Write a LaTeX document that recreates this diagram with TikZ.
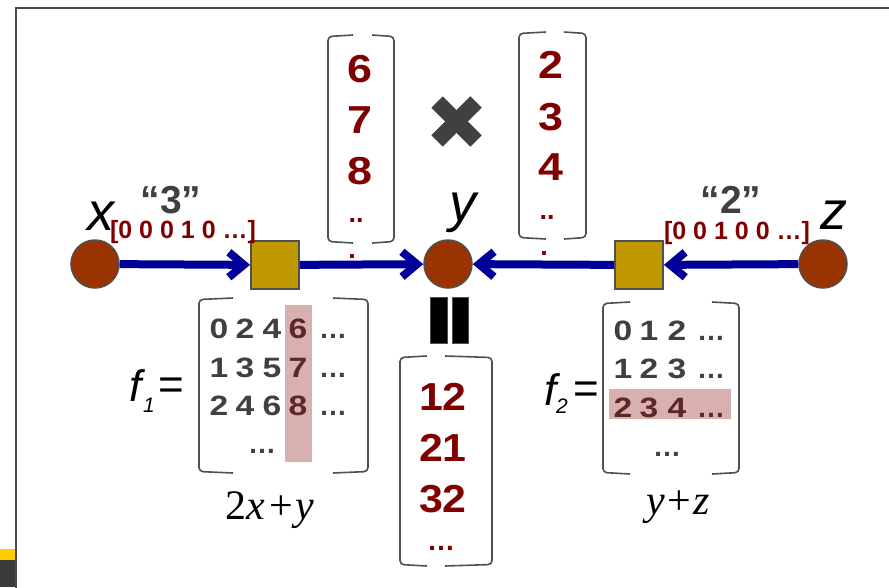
\documentclass[tikz,border=0pt]{standalone}
\usepackage{fontspec}
\setmainfont{Liberation Sans}
\newfontfamily\tms{Liberation Serif}
\usetikzlibrary{arrows.meta}
\definecolor{dred}{HTML}{800000}
\definecolor{tgray}{HTML}{404040}
\definecolor{hred}{HTML}{5A2828}
\definecolor{hlpink}{HTML}{D8B0B0}
\definecolor{rust}{HTML}{993300}
\definecolor{gold}{HTML}{C09800}
\definecolor{navy}{HTML}{000099}
\definecolor{bgray}{HTML}{505050}
\definecolor{framegray}{HTML}{4A4A4A}
\definecolor{stripyellow}{HTML}{FFCC00}
\definecolor{stripdark}{HTML}{3A3A3A}
\newcommand\stretchx[2][1.2]{\scalebox{#1}[1]{#2}}
\newcommand\brkt[6]{%
  \draw[brk] (#1+#5,#2) -- (#1,#2+1.5) -- (#1,#4-1.5) -- (#1+#5,#4);
  \draw[brk] (#3-#6,#2) -- (#3,#2+1.5) -- (#3,#4-1.5) -- (#3-#6,#4);}
\begin{document}
\begin{tikzpicture}[x=1pt,y=-1pt,
  varnode/.style={circle, draw=bgray, line width=1.5pt, fill=rust, minimum size=48pt, inner sep=0pt},
  sqnode/.style={rectangle, draw=bgray, line width=1.8pt, fill=gold, minimum size=48pt, inner sep=0pt},
  conn/.style={line width=8pt, draw=navy, -{Straight Barb[length=15pt,width=25pt]}},
  varlbl/.style={font=\fontsize{54}{54}\selectfont\itshape, inner sep=0pt},
  quot/.style={font=\fontsize{39}{39}\selectfont\bfseries, text=tgray, inner sep=0pt},
  bits/.style={font=\fontsize{25}{25}\selectfont\bfseries, text=dred, inner sep=0pt},
  vecnum/.style={font=\fontsize{39}{39}\selectfont\bfseries, text=dred, inner sep=0pt},
  vecdot/.style={font=\fontsize{27}{27}\selectfont\bfseries, text=dred, inner sep=0pt},
  cell/.style={font=\fontsize{28}{28}\selectfont\bfseries, text=tgray, inner sep=0pt, anchor=base},
  hcell/.style={cell, text=hred},
  brk/.style={draw=bgray, line width=1.6pt, rounded corners=4pt},
  flbl/.style={font=\fontsize{44}{44}\selectfont\itshape, inner sep=0pt},
  fsub/.style={font=\fontsize{21}{21}\selectfont\itshape, inner sep=0pt},
  eqlbl/.style={font=\fontsize{44}{44}\selectfont, inner sep=0pt},
  formula/.style={font=\fontsize{42}{42}\selectfont\tms, inner sep=0pt},
  xmark/.style={line width=16pt, draw=tgray},
  bar/.style={fill=black, draw=bgray, line width=0.8pt}
]
\useasboundingbox (0,0) rectangle (889,587);
\fill[white] (0,0) rectangle (889,587);
\clip (0,0) rectangle (889,587);
% frame and corner strip
\draw[framegray, line width=2pt] (16,590) -- (16,7.5) -- (892,7.5);
\fill[stripyellow] (0,549) rectangle (15,560);
\fill[stripdark] (0,560) rectangle (15,587);

% main chain
\node[varnode] (x) at (95,264) {};
\node[sqnode] (s1) at (275,265) {};
\node[varnode] (y) at (448,264) {};
\node[sqnode] (s2) at (639,265) {};
\node[varnode] (z) at (823,264) {};
\draw[conn] (x) -- (s1);
\draw[conn] (s1) -- (y);
\draw[conn] (z) -- (s2);
\draw[conn] (s2) -- (y);

% variable labels
\node[varlbl] (xl) at (101,216) {x};
\node[varlbl] (yl) at (463,213) {y};
\node[varlbl] (zl) at (834,215) {z};
\node[quot] (q3) at (171,200) {“3”};
\node[quot] (q2) at (731,200) {“2”};
\node[bits] (b1) at (183,232) {[0 0 0 1 0 …]};
\node[bits] (b2) at (737,233) {[0 0 1 0 0 …]};

% top left vector
\brkt{328}{35}{394}{243}{25}{22}
\node[vecnum] (v6) at (360,69) {\stretchx[1.15]{6}};
\node[vecnum] (v7) at (360,120) {\stretchx[1.15]{7}};
\node[vecnum] (v8) at (360,171) {\stretchx[1.15]{8}};
\node[vecdot] (vd1) at (356,220) {..};
\node[vecdot] (vd2) at (352,256) {.};

% top right vector
\brkt{519}{32}{586}{239}{27}{22}
\node[vecnum] (w2) at (551,65) {\stretchx[1.15]{2}};
\node[vecnum] (w3) at (551,117) {\stretchx[1.15]{3}};
\node[vecnum] (w4) at (551,167) {\stretchx[1.15]{4}};
\node[vecdot] (wd1) at (547,217) {..};
\node[vecdot] (wd2) at (544,253) {.};

% multiplication mark
\draw[xmark] (437,102) -- (476,141);
\draw[xmark] (437,141) -- (476,102);

% equals bars
\filldraw[bar] (430,297) rectangle (447,343);
\filldraw[bar] (452,297) rectangle (468,343);

% bottom vector
\brkt{400}{356}{492}{566}{27}{47}
\node[vecnum] (r12) at (443,397) {\stretchx[1.1]{12}};
\node[vecnum] (r21) at (443,448) {\stretchx[1.1]{21}};
\node[vecnum] (r32) at (443,499) {\stretchx[1.1]{32}};
\node[font=\fontsize{28}{28}\selectfont\bfseries, text=dred, inner sep=0pt] (rd) at (441,548) {…};

% f1 matrix
\fill[hlpink] (285,305) rectangle (312,462);
\brkt{199}{298}{368}{473}{34}{35}
\node[flbl] (f1) at (136,386) {f};
\node[fsub] (f1s) at (149,405) {1};
\node[eqlbl] (f1e) at (171,389) {=};
\foreach \a/\b/\c [count=\i] in {0/2/4,1/3/5,2/4/6} {
  \pgfmathsetmacro\yy{{338,377,415}[\i-1]}
  \node[cell] (fa\i c1) at (219,\yy) {\stretchx{\a}};
  \node[cell] (fa\i c2) at (245,\yy) {\stretchx{\b}};
  \node[cell] (fa\i c3) at (272,\yy) {\stretchx{\c}};
  \node[cell] (fa\i c5) at (333,\yy) {…};
}
\node[hcell] (fa1c4) at (298,338) {\stretchx{6}};
\node[hcell] (fa2c4) at (298,377) {\stretchx{7}};
\node[hcell] (fa3c4) at (298,415) {\stretchx{8}};
\node[cell] (fadots) at (262,453) {…};
\node[formula] (g1) at (270,510) {2\textit{x}\hspace{4pt}+\hspace{3pt}\textit{y}};

% f2 matrix
\fill[hlpink] (609,389) rectangle (731,419);
\brkt{603}{302}{739}{474}{27}{27}
\node[flbl] (f2) at (551,390) {f};
\node[fsub] (f2s) at (562,406) {2};
\node[eqlbl] (f2e) at (586,393) {=};
\node[cell] (fb1c1) at (623,340) {\stretchx{0}};
\node[cell] (fb1c2) at (649,340) {\stretchx{1}};
\node[cell] (fb1c3) at (677,340) {\stretchx{2}};
\node[cell] (fb1c4) at (711,340) {…};
\node[cell] (fb2c1) at (623,378) {\stretchx{1}};
\node[cell] (fb2c2) at (649,378) {\stretchx{2}};
\node[cell] (fb2c3) at (677,378) {\stretchx{3}};
\node[cell] (fb2c4) at (711,378) {…};
\node[hcell] (fb3c1) at (623,417) {\stretchx{2}};
\node[hcell] (fb3c2) at (649,417) {\stretchx{3}};
\node[hcell] (fb3c3) at (677,417) {\stretchx{4}};
\node[hcell] (fb3c4) at (711,417) {…};
\node[cell] (fbdots) at (667,456) {…};
\node[formula] (g2) at (678,507) {\textit{y}\hspace{3pt}+\hspace{2pt}\textit{z}};
\end{tikzpicture}
\end{document}
